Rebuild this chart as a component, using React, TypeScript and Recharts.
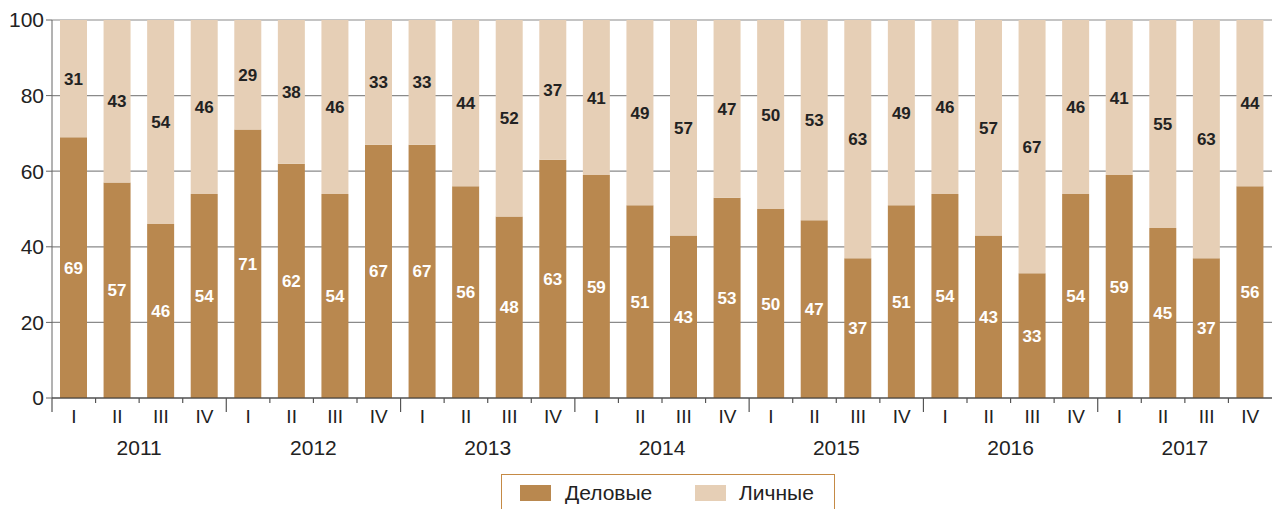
import React from "react";
import { BarChart, Bar, XAxis, YAxis, CartesianGrid, LabelList, Legend } from "recharts";

const quarters = ["I", "II", "III", "IV"];
const years = ["2011", "2012", "2013", "2014", "2015", "2016", "2017"];
const business = [69, 57, 46, 54, 71, 62, 54, 67, 67, 56, 48, 63, 59, 51, 43, 53, 50, 47, 37, 51, 54, 43, 33, 54, 59, 45, 37, 56];
const personal = [31, 43, 54, 46, 29, 38, 46, 33, 33, 44, 52, 37, 41, 49, 57, 47, 50, 53, 63, 49, 46, 57, 67, 46, 41, 55, 63, 44];
const yTicks = [0, 20, 40, 60, 80, 100];

const data = business.map((b, i) => ({
  key: `${years[Math.floor(i / 4)]}-${quarters[i % 4]}`,
  q: quarters[i % 4],
  year: years[Math.floor(i / 4)],
  b,
  p: personal[i],
}));

const DARK = "#B9884F";
const LIGHT = "#E6CFB6";
const W = 1277;
const H = 509;
const LEFT = 52;
const RIGHT = 5;
const BAND = (W - LEFT - RIGHT) / data.length;
const FONT = "'Liberation Sans', Arial, Helvetica, sans-serif";

const XTick = (props: any) => {
  const { x, y, payload, index } = props;
  const i = index ?? 0;
  const left = x - BAND / 2;
  const isYear = i % 4 === 0;
  return (
    <g>
      <line x1={left} y1={y} x2={left} y2={y + (isYear ? 14 : 5)} stroke="#555" strokeWidth={1.2} />
      <text x={x} y={y + 25} textAnchor="middle" fontSize={19} fill="#222" fontFamily={FONT}>
        {payload.value}
      </text>
      {i % 4 === 2 && (
        <text x={left} y={y + 57} textAnchor="middle" fontSize={21} fill="#222" fontFamily={FONT}>
          {data[i].year}
        </text>
      )}
    </g>
  );
};

const LegendBox = () => (
  <div
    style={{
      width: 334,
      height: 44,
      border: "1.5px solid #C58A45",
      boxSizing: "border-box",
      position: "relative",
      fontFamily: FONT,
      fontSize: 21,
      color: "#222",
      background: "#fff",
    }}
  >
    <div style={{ position: "absolute", left: 18, top: 10, width: 31, height: 16, background: DARK }} />
    <div style={{ position: "absolute", left: 63, top: 5, lineHeight: "26px" }}>Деловые</div>
    <div style={{ position: "absolute", left: 193, top: 10, width: 31, height: 16, background: LIGHT }} />
    <div style={{ position: "absolute", left: 237, top: 5, lineHeight: "26px" }}>Личные</div>
  </div>
);

export default function App() {
  return (
    <div style={{ position: "absolute", left: 0, top: 0, width: W, height: H, background: "#fff" }}>
      <BarChart
        width={W}
        height={H}
        data={data}
        margin={{ top: 20, right: RIGHT, bottom: 0, left: 0 }}
        barSize={27}
      >
        <CartesianGrid vertical={false} stroke="#8a8a8a" strokeWidth={1.2} />
        <YAxis
          width={LEFT}
          domain={[0, 100]}
          ticks={yTicks}
          interval={0}
          tickSize={6}
          tickMargin={2}
          stroke="#666"
          tick={{ fontSize: 21, fill: "#222", fontFamily: FONT }}
        />
        <XAxis
          dataKey="key"
          height={111}
          interval={0}
          tickLine={false}
          tickSize={0}
          tickMargin={0}
          stroke="#333"
          tick={(p: any) => <XTick {...p} payload={{ value: data[p.index].q }} />}
        />
        <Bar dataKey="b" stackId="s" fill={DARK} isAnimationActive={false} name="Деловые">
          <LabelList dataKey="b" position="center" fill="#fff" fontSize={17} fontWeight="bold" fontFamily={FONT} />
        </Bar>
        <Bar dataKey="p" stackId="s" fill={LIGHT} isAnimationActive={false} name="Личные">
          <LabelList dataKey="p" position="center" fill="#222" fontSize={17} fontWeight="bold" fontFamily={FONT} />
        </Bar>
        <Legend
          layout="horizontal"
          verticalAlign="middle"
          wrapperStyle={{ left: 501, top: 474, width: 334 }}
          content={() => <LegendBox />}
        />
      </BarChart>
    </div>
  );
}
